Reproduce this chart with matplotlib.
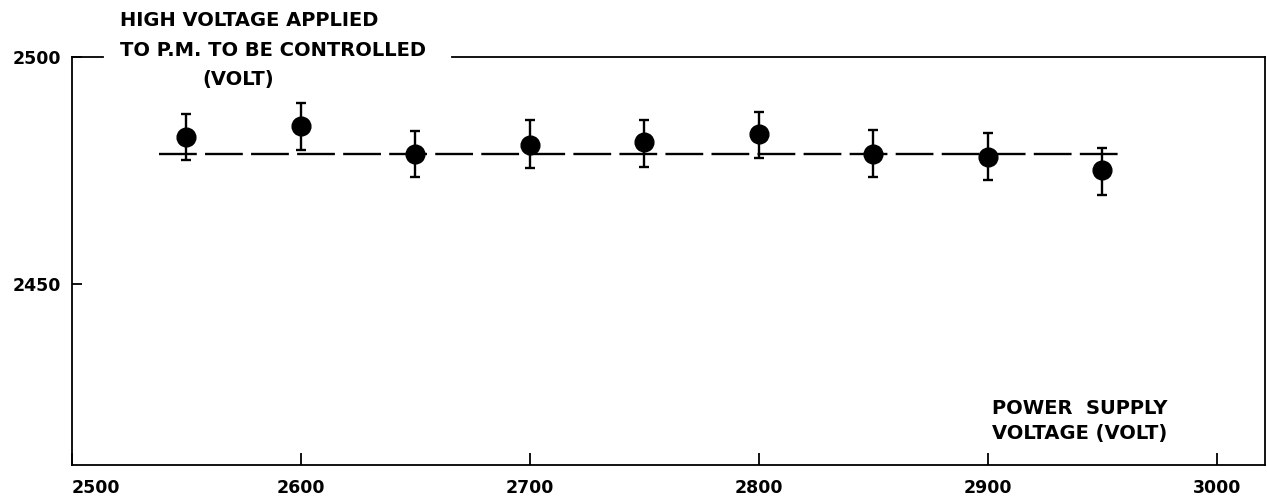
import matplotlib
matplotlib.use("Agg")
import matplotlib.pyplot as plt

# power supply voltage (V) and resulting high voltage on the P.M. (V)
supply_volt = [2550, 2600, 2650, 2700, 2750, 2800, 2850, 2900, 2950]
hv_volt = [2482.4, 2484.7, 2478.6, 2480.6, 2481.2, 2483.0, 2478.6, 2478.0, 2475.0]
hv_err_up = [5.0, 5.1, 5.1, 5.4, 4.9, 4.8, 5.2, 5.2, 4.9]
hv_err_down = [5.2, 5.3, 5.0, 5.0, 5.5, 5.2, 5.1, 5.2, 5.4]

# regulated level (dashed reference)
ref_x = [2538, 2957]
ref_y = [2478.6, 2478.6]

x_ticks = [2500, 2600, 2700, 2800, 2900, 3000]
y_ticks = [2450, 2500]

W, H = 1267, 498


def main():
    plt.rcParams['font.family'] = ['DejaVu Sans']
    plt.rcParams['font.weight'] = 'bold'

    fig = plt.figure(figsize=(W / 100, H / 100), dpi=100)
    ax = fig.add_axes([72 / W, 1 - 465 / H, 1193 / W, 408 / H])

    ax.plot(ref_x, ref_y, color='black', lw=1.7, dashes=(16, 3.5), zorder=1)
    ax.errorbar(supply_volt, hv_volt, yerr=[hv_err_down, hv_err_up],
                fmt='o', color='black', ms=13.5, elinewidth=1.7,
                capsize=3.6, capthick=1.7, zorder=3)

    ax.set_xlim(2500, 3021)
    ax.set_ylim(2410, 2500)
    ax.set_xticks(x_ticks)
    ax.set_yticks(y_ticks)
    ax.tick_params(axis='x', direction='in', length=9, width=1.3,
                   pad=10, labelsize=12.5)
    ax.tick_params(axis='y', direction='in', length=7, width=1.3,
                   pad=8, labelsize=12.5)
    ax.get_xticklabels()[0].set_horizontalalignment('left')

    for side in ['left', 'right', 'bottom']:
        ax.spines[side].set_linewidth(1.3)
    # top frame is broken where the y-axis title is lettered
    ax.spines['top'].set_visible(False)
    gap_l = (103 - 72) / 1193
    gap_r = (452 - 72) / 1193
    ax.plot([0, gap_l], [1, 1], color='black', lw=1.3,
            transform=ax.transAxes, clip_on=False)
    ax.plot([gap_r, 1], [1, 1], color='black', lw=1.3,
            transform=ax.transAxes, clip_on=False)

    fs = 14
    fig.text(120 / W, 1 - 20 / H, 'HIGH VOLTAGE APPLIED',
             fontsize=fs, va='center', ha='left')
    fig.text(120 / W, 1 - 50 / H, 'TO P.M. TO BE CONTROLLED',
             fontsize=fs, va='center', ha='left')
    fig.text(202 / W, 1 - 80 / H, '(VOLT)',
             fontsize=fs, va='center', ha='left')

    fig.text(992 / W, 1 - 408 / H, 'POWER  SUPPLY',
             fontsize=fs, va='center', ha='left')
    fig.text(992 / W, 1 - 434 / H, 'VOLTAGE (VOLT)',
             fontsize=fs, va='center', ha='left')

    fig.savefig('out.png', dpi=100)


if __name__ == "__main__":
    main()
